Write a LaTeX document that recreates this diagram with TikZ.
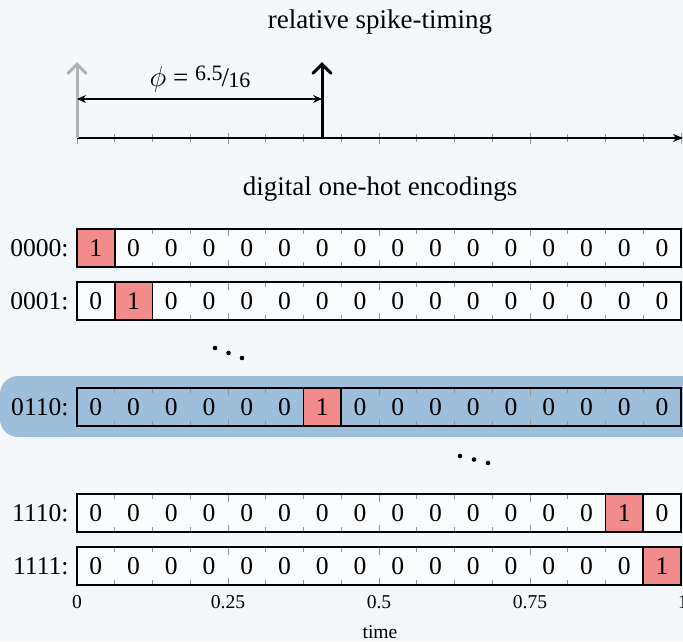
\documentclass[tikz,border=0pt]{standalone}
\usepackage{fontspec}
\setmainfont{Liberation Serif}
\usetikzlibrary{arrows.meta}

\definecolor{pagebg}{RGB}{245,248,251}
\definecolor{cellbg}{RGB}{250,252,253}
\definecolor{hotred}{RGB}{242,139,139}
\definecolor{hiblue}{RGB}{157,191,219}
\definecolor{spikegray}{RGB}{178,178,178}
\definecolor{tickgray}{RGB}{150,150,150}

\tikzset{
  frame/.style={draw=black, line width=0.8pt},
  tickline/.style={draw=tickgray, line width=0.4pt},
  hot/.style={fill=hotred},
  digit/.style={inner sep=0pt, font=\fontsize{12.8}{15}\selectfont},
  rowlabel/.style={anchor=east, inner sep=0pt, font=\fontsize{12.8}{15}\selectfont},
  heading/.style={inner sep=0pt, font=\fontsize{13.5}{16}\selectfont},
  ticklabel/.style={inner sep=0pt, font=\fontsize{9.8}{12}\selectfont},
  spike/.style={line width=1.5pt, -{Straight Barb[length=4.6pt, width=9pt, line cap=round]}},
  dotmark/.style={fill=black, circle, inner sep=0pt, minimum size=2.3pt},
}

% one row of a one-hot code: #1 name, #2 label, #3 centre y, #4 index of the 1, #5 row fill
\newcommand\hotrow[5]{%
  \fill[#5] (77,{#3-19}) rectangle (681,{#3+19});
  \foreach \j in {1,...,15}{
    \pgfmathsetmacro\tl{mod(\j,4)==0 ? 7.5 : 5}
    \draw[tickline] ({77+\j*37.75},{#3-19}) -- ++(0,\tl);
    \draw[tickline] ({77+\j*37.75},{#3+19}) -- ++(0,-\tl);
  }
  \fill[hot] ({77+#4*37.75},{#3-19}) rectangle ++(37.75,38);
  \draw[frame] (77,{#3-19}) rectangle (681,{#3+19});
  \draw[frame] ({77+#4*37.75},{#3-19}) rectangle ++(37.75,38);
  \node[rowlabel] (#1) at (69,#3) {#2:};
  \foreach \j in {0,...,15}{
    \pgfmathtruncatemacro\v{\j==#4 ? 1 : 0}
    \node[digit] (#1-\j) at ({77+(\j+0.5)*37.75},{#3+0.5}) {\v};
  }
}

\begin{document}
\begin{tikzpicture}[x=0.5pt, y=-0.5pt]
  \useasboundingbox (0,0) rectangle (683,641);
  \fill[pagebg] (0,0) rectangle (683,641);

  % relative spike-timing
  \node[heading] (title) at (380,22) {relative spike-timing};
  \coordinate (t0) at (77,138);
  \coordinate (tend) at (683,138);
  \coordinate (spk) at (322,138);
  \coordinate (reftop) at (77,62);
  \coordinate (spktop) at (322,62);
  \coordinate (phia) at (77,99);
  \coordinate (phib) at (322,99);

  \foreach \i in {0,...,16}{
    \pgfmathsetmacro\tl{mod(\i,4)==0 ? 5 : 3.5}
    \draw[tickline] ({77+\i*37.75},{138-\tl}) -- ({77+\i*37.75},{139+\tl});
  }
  \draw[line width=0.75pt, -{Stealth[length=5pt, width=4pt, inset=1.5pt]}] (t0) -- (tend);
  \draw[spike, spikegray] (t0) -- (reftop);
  \draw[spike, black] (spk) -- (spktop);
  \draw[line width=0.6pt, {Stealth[length=4.5pt, width=4pt, inset=1.5pt]}-{Stealth[length=4.5pt, width=4pt, inset=1.5pt]}] (phia) -- (phib);
  \node[inner sep=0pt, font=\fontsize{13.5}{16}\selectfont] (phi) at (200,79) {$\phi$ = \raisebox{2.6pt}{\fontsize{11}{13}\selectfont 6.5}\kern-0.5pt/\kern-0.3pt\raisebox{-0.7pt}{\fontsize{11}{13}\selectfont 16}};

  % digital one-hot encodings
  \node[heading] (subtitle) at (380,189) {digital one-hot encodings};

  \fill[hiblue, rounded corners=9pt] (0,376) rectangle (700,437);

  \hotrow{r0000}{0000}{248}{0}{cellbg}
  \hotrow{r0001}{0001}{301}{1}{cellbg}
  \hotrow{r0110}{0110}{407}{6}{hiblue}
  \hotrow{r1110}{1110}{513}{14}{cellbg}
  \hotrow{r1111}{1111}{566}{15}{cellbg}

  \node[dotmark] (da1) at (215,348) {};
  \node[dotmark] (da2) at (228.5,353) {};
  \node[dotmark] (da3) at (242,358) {};
  \node[dotmark] (db1) at (460,456) {};
  \node[dotmark] (db2) at (474,459.5) {};
  \node[dotmark] (db3) at (488,463) {};

  % time axis labels
  \node[ticklabel] (x0) at (77,602) {0};
  \node[ticklabel] (x1) at (228,602) {0.25};
  \node[ticklabel] (x2) at (379,602) {0.5};
  \node[ticklabel] (x3) at (530,602) {0.75};
  \node[ticklabel] (x4) at (683,602) {1};
  \node[ticklabel] (xl) at (380,632) {time};
\end{tikzpicture}
\end{document}
